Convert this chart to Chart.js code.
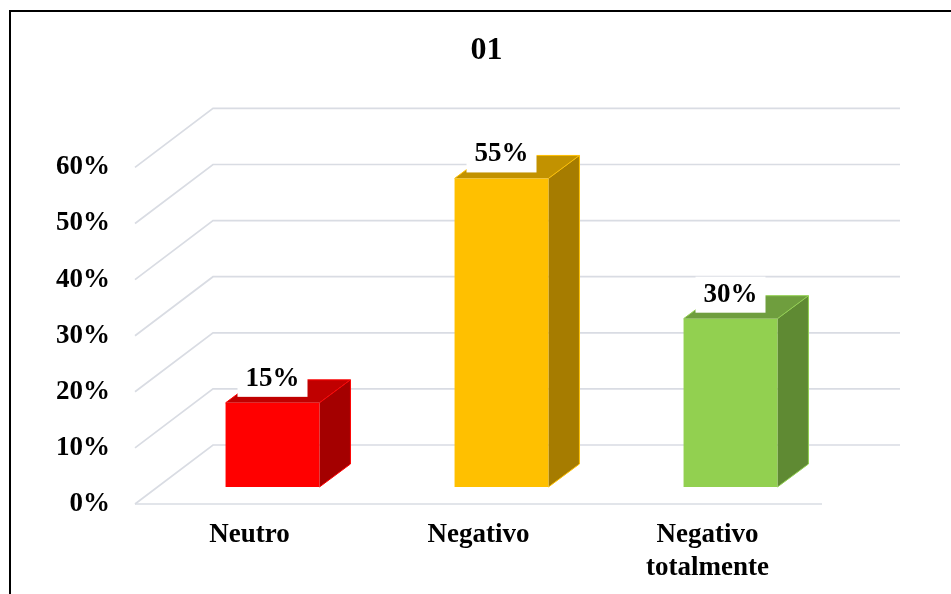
<!DOCTYPE html>
<html>
<head>
<meta charset="utf-8">
<script src="https://cdn.jsdelivr.net/npm/chart.js@4/dist/chart.umd.min.js"></script>
<style>
  html, body { margin: 0; padding: 0; background: #fff; }
  #wrap { position: relative; width: 951px; height: 594px; }
</style>
</head>
<body>
<div id="wrap"><canvas id="c" width="951" height="594"></canvas></div>
<script>
// ---- data ----
const chartTitle = '01';
const categories = ['Neutro', 'Negativo', ['Negativo', 'totalmente']];
const values = [15, 55, 30];
const yMin = 0;
const yMax = 60;
const yStep = 10;

// ---- styles ----
const frontColors = ['#FF0000', '#FFC000', '#92D050'];
const topColors   = ['#C00000', '#C29200', '#6F9E3E'];
const sideColors  = ['#A40000', '#A67C00', '#5F8A33'];
const gridColor = '#D9DCE3';
const FONT = '"Liberation Serif", "Times New Roman", serif';

// 3D geometry (pixel offsets relative to the bar front plane)
const DEPTH = { dx: 31, dy: -23 };     // bar depth
const FRONT = { dx: -23, dy: 17 };     // front edge of floor / labels plane
const BACK  = { dx: 55, dy: -42 };     // back wall plane

const threeD = {
  id: 'threeD',
  beforeDatasetsDraw(chart) {
    const { ctx, chartArea: a, scales: { y } } = chart;
    ctx.save();
    ctx.strokeStyle = gridColor;
    ctx.lineWidth = 1.7;
    for (let v = yMin; v <= yMax; v += yStep) {
      const py = y.getPixelForValue(v);
      ctx.beginPath();
      ctx.moveTo(a.left + FRONT.dx, py + FRONT.dy);
      ctx.lineTo(a.left + BACK.dx, py + BACK.dy);
      ctx.lineTo(a.right + BACK.dx, py + BACK.dy);
      ctx.stroke();
    }
    // floor front edge
    const p0 = y.getPixelForValue(yMin);
    ctx.beginPath();
    ctx.moveTo(a.left + FRONT.dx, p0 + FRONT.dy);
    ctx.lineTo(a.right + FRONT.dx, p0 + FRONT.dy);
    ctx.stroke();

    // side and top faces of bars
    const meta = chart.getDatasetMeta(0);
    meta.data.forEach((bar, i) => {
      const { x, y: top, base, width } = bar.getProps(['x', 'y', 'base', 'width'], true);
      const l = x - width / 2, r = x + width / 2;
      // side
      ctx.beginPath();
      ctx.moveTo(r, top);
      ctx.lineTo(r + DEPTH.dx, top + DEPTH.dy);
      ctx.lineTo(r + DEPTH.dx, base + DEPTH.dy);
      ctx.lineTo(r, base);
      ctx.closePath();
      ctx.fillStyle = sideColors[i];
      ctx.fill();
      // top
      ctx.beginPath();
      ctx.moveTo(l, top);
      ctx.lineTo(l + DEPTH.dx, top + DEPTH.dy);
      ctx.lineTo(r + DEPTH.dx, top + DEPTH.dy);
      ctx.lineTo(r, top);
      ctx.closePath();
      ctx.fillStyle = topColors[i];
      ctx.fill();
      // bright outline edges
      ctx.strokeStyle = frontColors[i];
      ctx.lineWidth = 1;
      ctx.beginPath();
      ctx.moveTo(l, top);
      ctx.lineTo(l + DEPTH.dx, top + DEPTH.dy);
      ctx.lineTo(r + DEPTH.dx, top + DEPTH.dy);
      ctx.lineTo(r + DEPTH.dx, base + DEPTH.dy);
      ctx.lineTo(r, base);
      ctx.moveTo(r, top);
      ctx.lineTo(r + DEPTH.dx, top + DEPTH.dy);
      ctx.stroke();
    });
    ctx.restore();
  },
  afterDatasetsDraw(chart) {
    const { ctx } = chart;
    const meta = chart.getDatasetMeta(0);
    ctx.save();
    ctx.font = 'bold 27px ' + FONT;
    ctx.textAlign = 'center';
    ctx.textBaseline = 'middle';
    meta.data.forEach((bar, i) => {
      const { x, y: top } = bar.getProps(['x', 'y'], true);
      const cy = top - 24;
      ctx.fillStyle = '#FFFFFF';
      ctx.fillRect(x - 35, cy - 18, 70, 36);
      ctx.fillStyle = '#000000';
      ctx.fillText(values[i] + '%', x, cy);
    });
    ctx.restore();
  },
  afterDraw(chart) {
    const { ctx } = chart;
    ctx.save();
    ctx.strokeStyle = '#000';
    ctx.lineWidth = 2;
    ctx.beginPath();
    ctx.moveTo(10, 594);
    ctx.lineTo(10, 11);
    ctx.lineTo(951, 11);
    ctx.stroke();
    ctx.restore();
  }
};

new Chart(document.getElementById('c'), {
  type: 'bar',
  data: {
    labels: categories,
    datasets: [{
      data: values,
      backgroundColor: frontColors,
      borderWidth: 0,
      barPercentage: 0.41,
      categoryPercentage: 1.0
    }]
  },
  options: {
    responsive: false,
    animation: false,
    layout: { padding: { left: 22, right: 0, top: 0, bottom: 0 } },
    plugins: {
      legend: { display: false },
      tooltip: { enabled: false },
      title: {
        display: true,
        text: chartTitle,
        color: '#000',
        font: { family: FONT, size: 32, weight: 'bold' },
        padding: { top: 32, bottom: 80 }
      }
    },
    scales: {
      x: {
        grid: { display: false, drawTicks: false },
        border: { display: false },
        ticks: {
          color: '#000',
          font: { family: FONT, size: 27, weight: 'bold' },
          padding: 32,
          labelOffset: FRONT.dx,
          maxRotation: 0,
          autoSkip: false
        },
        afterFit(s) { s.height = 107; }
      },
      y: {
        min: yMin,
        max: yMax,
        grid: { display: false, drawTicks: false },
        border: { display: false },
        ticks: {
          stepSize: yStep,
          color: '#000',
          font: { family: FONT, size: 27, weight: 'bold' },
          padding: 48,
          labelOffset: FRONT.dy,
          callback: v => v + '%'
        },
        afterFit(s) { s.width = 136; }
      },
      yRight: {
        position: 'right',
        display: true,
        grid: { display: false, drawTicks: false },
        border: { display: false },
        ticks: { display: false },
        afterFit(s) { s.width = 106; }
      }
    }
  },
  plugins: [threeD]
});
</script>
</body>
</html>
